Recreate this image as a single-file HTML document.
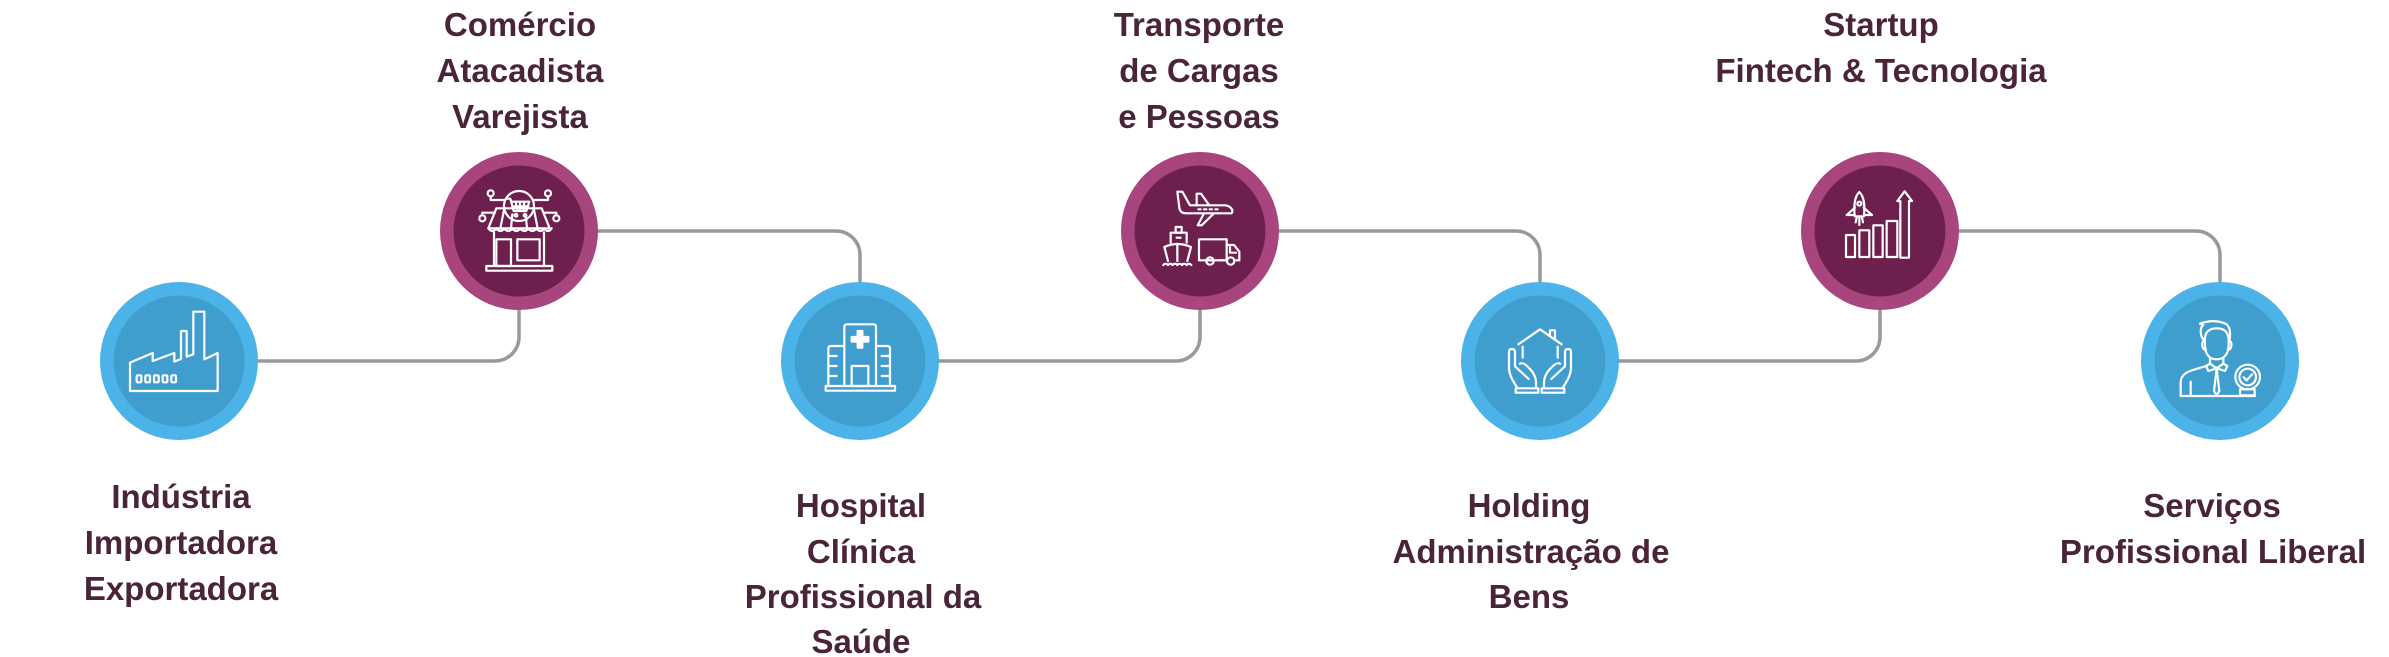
<!DOCTYPE html>
<html>
<head>
<meta charset="utf-8">
<style>
html,body{margin:0;padding:0;background:#fff;}
body{width:2389px;height:657px;overflow:hidden;}
svg{display:block;}
.t{font-family:"Liberation Sans",Arial,sans-serif;font-weight:bold;font-size:33px;fill:#4a2438;text-anchor:middle;}
.ic{fill:none;stroke:#fff;stroke-width:6.6;stroke-linejoin:round;stroke-linecap:round;}
</style>
</head>
<body>
<svg width="2389" height="657" viewBox="0 0 2389 657" xmlns="http://www.w3.org/2000/svg">
  <!-- connectors -->
  <g fill="none" stroke="#999999" stroke-width="3.5">
    <path d="M179,361 H495 A24,24 0 0 0 519,337 V231"/>
    <path d="M519,231 H836 A24,24 0 0 1 860,255 V361"/>
    <path d="M860,361 H1176 A24,24 0 0 0 1200,337 V231"/>
    <path d="M1200,231 H1516 A24,24 0 0 1 1540,255 V361"/>
    <path d="M1540,361 H1856 A24,24 0 0 0 1880,337 V231"/>
    <path d="M1880,231 H2196 A24,24 0 0 1 2220,255 V361"/>
  </g>

  <!-- circles -->
  <g>
    <circle cx="179" cy="361" r="79" fill="#4bb3e7"/><circle cx="179" cy="361" r="65.5" fill="#409ecf"/>
    <circle cx="519" cy="231" r="79" fill="#a8457f"/><circle cx="519" cy="231" r="65.5" fill="#6d204d"/>
    <circle cx="860" cy="361" r="79" fill="#4bb3e7"/><circle cx="860" cy="361" r="65.5" fill="#409ecf"/>
    <circle cx="1200" cy="231" r="79" fill="#a8457f"/><circle cx="1200" cy="231" r="65.5" fill="#6d204d"/>
    <circle cx="1540" cy="361" r="79" fill="#4bb3e7"/><circle cx="1540" cy="361" r="65.5" fill="#409ecf"/>
    <circle cx="1880" cy="231" r="79" fill="#a8457f"/><circle cx="1880" cy="231" r="65.5" fill="#6d204d"/>
    <circle cx="2220" cy="361" r="79" fill="#4bb3e7"/><circle cx="2220" cy="361" r="65.5" fill="#409ecf"/>
  </g>

  <!-- Icon 1: factory -->
  <g transform="translate(110,291) scale(0.33333)" class="ic">
    <path d="M60,300 V215 L128,186 V210 L193,186 V212 L213,204 V120 H230 V197 L250,190 V62 H283 V205 L323,186 V300 Z"/>
    <rect x="80" y="253" width="14" height="21" rx="3"/>
    <rect x="106" y="253" width="14" height="21" rx="3"/>
    <rect x="132" y="253" width="14" height="21" rx="3"/>
    <rect x="158" y="253" width="14" height="21" rx="3"/>
    <rect x="184" y="253" width="14" height="21" rx="3"/>
  </g>

  <!-- Icon 2: store -->
  <g transform="translate(449,161) scale(0.33333)" class="ic">
    <circle cx="210" cy="135" r="45"/>
    <path d="M172,113 H184 L194,150 H232 L241,122 H188"/>
    <path d="M200,122 L205,150 M213,122 V150 M226,122 L223,150 M190,136 H238"/>
    <circle cx="201" cy="163" r="4"/><circle cx="228" cy="163" r="4"/>
    <circle cx="125" cy="97" r="9"/><circle cx="297" cy="97" r="9"/>
    <circle cx="100" cy="172" r="9"/><circle cx="322" cy="172" r="9"/>
    <path d="M125,106 V117 H166 M297,106 V117 H254 M100,163 V155 H138 M322,163 V155 H284"/>
    <path d="M142,142 H278 L302,202 H118 Z"/>
    <path d="M118,202 q12,16 24,0 q12,16 24,0 q12,16 24,0 q12,16 24,0 q12,16 24,0 q12,16 24,0 q12,16 24,0 q11,16 22,0"/>
    <path d="M166,142 L154,202 M190,160 L186,202 M230,160 L234,202 M254,142 L266,202"/>
    <path d="M135,214 V315 M285,214 V315"/>
    <rect x="142" y="235" width="44" height="80"/>
    <rect x="205" y="235" width="67" height="63"/>
    <rect x="112" y="315" width="198" height="14"/>
  </g>

  <!-- Icon 3: hospital -->
  <g transform="translate(790,291) scale(0.33333)" class="ic">
    <rect x="107" y="285" width="208" height="14"/>
    <path d="M163,285 V108 Q163,100 171,100 H250 Q258,100 258,108 V285"/>
    <path d="M163,165 H123 Q115,165 115,173 V285 M258,165 H292 Q300,165 300,173 V285"/>
    <path d="M115,195 H140 M115,225 H140 M115,255 H140 M275,195 H300 M275,225 H300 M275,255 H300"/>
    <rect x="185" y="225" width="50" height="60"/>
    <path d="M203,120 H217 V138 H235 V152 H217 V170 H203 V152 H185 V138 H203 Z" fill="#fff"/>
  </g>

  <!-- Icon 4: transport -->
  <g transform="translate(1130,161) scale(0.33333)" class="ic">
    <path d="M142,92 H157 L180,133 H282 C300,133 312,146 305,157 H168 Q150,157 148,140 Z"/>
    <path d="M200,133 V98 H213 L238,133"/>
    <path d="M222,157 L203,193 H215 L252,157"/>
    <path d="M205,145 H212 M222,145 H229 M239,145 H246 M256,145 H263"/>
    <rect x="137" y="198" width="18" height="17"/>
    <path d="M122,245 V215 H170 V245"/>
    <path d="M140,230 H152"/>
    <path d="M103,258 Q142,240 183,258 L172,300 M103,258 L114,300 M142,248 V300"/>
    <path d="M100,312 q7,-8 14,0 q7,-8 14,0 q7,-8 14,0 q7,-8 14,0 q7,-8 14,0 q7,-8 14,0"/>
    <rect x="207" y="235" width="83" height="63"/>
    <path d="M290,252 H312 L328,272 V298 H312 M290,298 H268 M250,298 H228"/>
    <path d="M300,258 V275 H318"/>
    <circle cx="240" cy="300" r="11"/><circle cx="302" cy="300" r="11"/>
  </g>

  <!-- Icon 5: holding -->
  <g transform="translate(1470,291) scale(0.33333)" class="ic">
    <path d="M145,160 L210,115 L275,160"/>
    <path d="M240,133 V118 H255 V143"/>
    <path d="M158,167 V200 M263,167 V200"/>
    <rect x="137" y="292" width="68" height="13"/>
    <path d="M143,292 C128,270 117,250 117,232 V183 Q117,174 126,174 Q135,174 135,183 V226 L176,264"/>
    <path d="M150,218 Q160,212 178,232 Q198,252 198,275 V292"/>
    <rect x="215" y="292" width="68" height="13"/>
    <path d="M277,292 C292,270 303,250 303,232 V183 Q303,174 294,174 Q285,174 285,183 V226 L244,264"/>
    <path d="M270,218 Q260,212 242,232 Q222,252 222,275 V292"/>
  </g>

  <!-- Icon 6: startup -->
  <g transform="translate(1810,161) scale(0.33333)" class="ic">
    <path d="M148,93 C134,106 131,130 134,166 H162 C165,130 162,106 148,93 Z"/>
    <circle cx="148" cy="128" r="6"/>
    <path d="M135,140 L110,162 H134 M161,140 L186,162 H162"/>
    <path d="M140,170 L137,184 M148,170 V192 M156,170 L159,184"/>
    <rect x="108" y="222" width="27" height="66"/>
    <rect x="148" y="208" width="30" height="80"/>
    <rect x="190" y="193" width="28" height="95"/>
    <rect x="230" y="180" width="32" height="108"/>
    <path d="M271,290 V120 H262 L284,91 L306,120 H297 V290 Z"/>
  </g>

  <!-- Icon 7: professional -->
  <g transform="translate(2150,291) scale(0.33333)" class="ic">
    <path d="M165,160 C162,130 170,112 200,112 C230,112 238,130 236,160 C236,190 222,205 200,205 C178,205 165,190 165,160 Z"/>
    <path d="M165,150 C150,140 148,110 160,102 L150,98 Q195,82 230,100 Q245,115 238,150"/>
    <path d="M165,150 Q155,150 157,165 Q160,178 168,176 M236,150 Q246,150 244,165 Q241,178 233,176"/>
    <path d="M180,200 V218 L200,232 L220,218 V200"/>
    <path d="M180,218 L168,225 L175,240 L200,232 L225,240 L232,225 L220,218"/>
    <path d="M200,232 L192,300 L200,312 L208,300 Z"/>
    <path d="M168,225 C130,238 92,240 92,275 V315 H315"/>
    <path d="M122,272 V315"/>
    <circle cx="293" cy="258" r="37"/>
    <circle cx="293" cy="258" r="25"/>
    <path d="M281,259 L290,268 L306,250"/>
    <rect x="270" y="295" width="44" height="18"/>
  </g>

  <!-- labels top -->
  <text class="t" x="520" y="36">Comércio</text>
  <text class="t" x="520" y="82">Atacadista</text>
  <text class="t" x="520" y="128">Varejista</text>

  <text class="t" x="1199" y="36">Transporte</text>
  <text class="t" x="1199" y="82">de Cargas</text>
  <text class="t" x="1199" y="128">e Pessoas</text>

  <text class="t" x="1881" y="36">Startup</text>
  <text class="t" x="1881" y="82">Fintech &amp; Tecnologia</text>

  <!-- labels bottom -->
  <text class="t" x="181" y="508">Indústria</text>
  <text class="t" x="181" y="554">Importadora</text>
  <text class="t" x="181" y="600">Exportadora</text>

  <text class="t" x="861" y="517">Hospital</text>
  <text class="t" x="861" y="563">Clínica</text>
  <text class="t" x="863" y="608">Profissional da</text>
  <text class="t" x="861" y="653">Saúde</text>

  <text class="t" x="1529" y="517">Holding</text>
  <text class="t" x="1531" y="563">Administração de</text>
  <text class="t" x="1529" y="608">Bens</text>

  <text class="t" x="2212" y="517">Serviços</text>
  <text class="t" x="2213" y="563">Profissional Liberal</text>
</svg>
</body>
</html>
